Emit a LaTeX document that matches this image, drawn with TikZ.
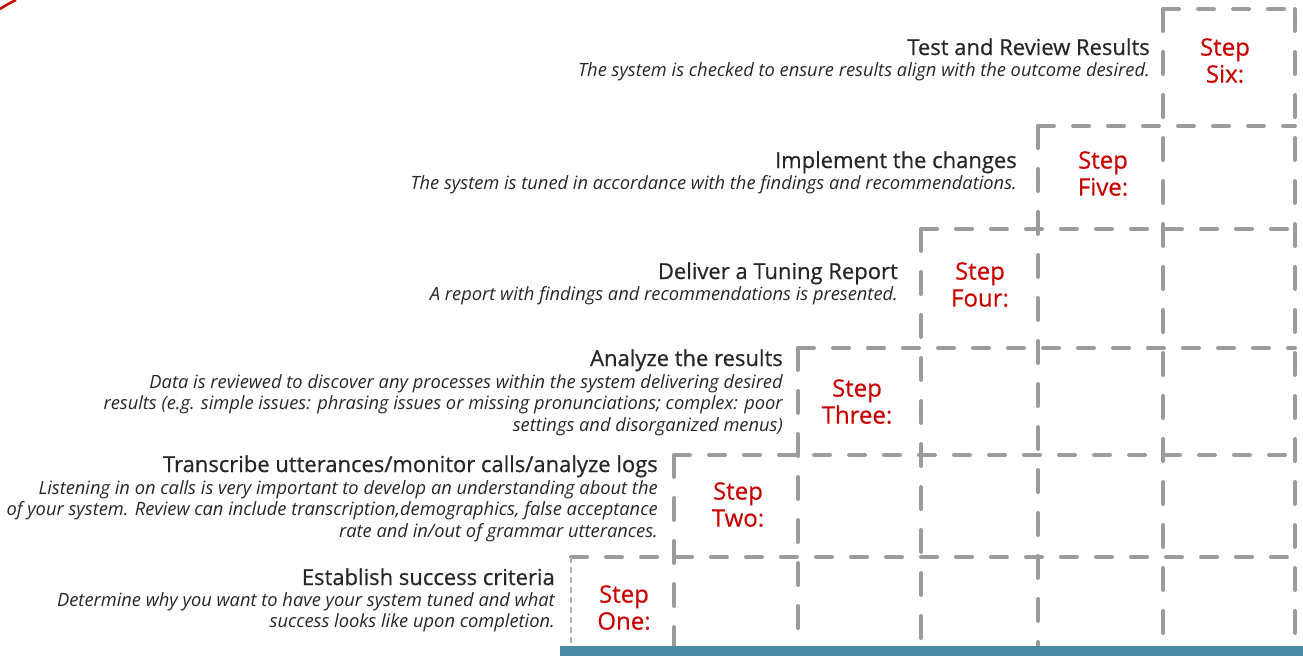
\documentclass[tikz,border=0pt]{standalone}
\usepackage{fontspec}
\setmainfont{Open Sans}
\newfontfamily\headfont{Open Sans}[FakeBold=0.6]
\newfontfamily\stepfont{Open Sans}[FakeBold=0.3]
\usetikzlibrary{positioning}

\definecolor{rulegray}{HTML}{9B9B9D}
\definecolor{stepred}{HTML}{C80000}
\definecolor{barblue}{HTML}{4A89A3}
\definecolor{inkdark}{HTML}{262626}

\begin{document}
\begin{tikzpicture}[x=1pt, y=-1pt,
  rule/.style={rulegray, line width=4pt, line cap=round},
  hrule/.style={rule, dash pattern=on 16pt off 19pt},
  vrule/.style={rule, dash pattern=on 22pt off 21pt},
  startrule/.style={rulegray!80, line width=1.2pt, dash pattern=on 6pt off 4pt},
  head/.style={anchor=base east, inner sep=0, text=inkdark,
    font=\headfont\fontsize{22}{26}\selectfont},
  desc/.style={anchor=north east, inner sep=0, align=right, text=inkdark,
    font=\fontsize{18.3}{21.5}\selectfont\itshape},
  steplbl/.style={anchor=north, inner sep=0, align=center, text=stepred,
    font=\stepfont\fontsize{24}{27}\selectfont}]

  \useasboundingbox (0,0) rectangle (1303,656);

  % corner swoosh
  \draw[stepred, line width=2.5pt] (0,9) to[bend left=4] (16,0);

  % staircase: one top rule per step, verticals down to the bar
  \foreach \xa/\y in {571/557, 674/455, 798/348, 921/229, 1038/126, 1163/9}
    \draw[hrule] (\xa,\y) -- (1295,\y);
  \foreach \x/\ya in {674/455, 798/348, 921/229, 1038/126, 1163/9, 1295/9}
    \draw[vrule] (\x,\ya) -- (\x,646);
  \draw[startrule] (571,557) -- (571,646);

  % base bar
  \fill[barblue] (560,646) rectangle (1303,656);

  % step labels
  \node[steplbl] (s6) at (1225,38) {Step\\Six:};
  \node[steplbl] (s5) at (1103,151) {Step\\Five:};
  \node[steplbl] (s4) at (980,262) {Step\\Four:};
  \node[steplbl] (s3) at (857,379) {Step\\Three:};
  \node[steplbl] (s2) at (738,482) {Step\\Two:};
  \node[steplbl] (s1) at (624,585) {Step\\One:};

  % what happens at each step
  \node[head] (h6) at (1150,55) {Test and Review Results};
  \node[desc] (d6) at (1150,62.3)
    {The system is checked to ensure results align with the outcome desired.};

  \node[head] (h5) at (1017,168) {Implement the changes};
  \node[desc] (d5) at (1017,175.3)
    {The system is tuned in accordance with the findings and recommendations.};

  \node[head] (h4) at (898,279) {Deliver a Tuning Report};
  \node[desc] (d4) at (898,286.3)
    {A report with findings and recommendations is presented.};

  \node[head] (h3) at (783,366) {Analyze the results};
  \node[desc] (d3) at (783,374.3)
    {Data is reviewed to discover any processes within the system delivering desired\\
     results (e.g. simple issues: phrasing issues or missing pronunciations; complex: poor\\
     settings and disorganized menus)};

  \node[head] (h2) at (658,472) {Transcribe utterances/monitor calls/analyze logs};
  \node[desc] (d2) at (658,480.3)
    {Listening in on calls is very important to develop an understanding about the\\
     of your system. Review can include transcription,demographics, false acceptance\\
     rate and in/out of grammar utterances.};

  \node[head] (h1) at (555,585) {Establish success criteria};
  \node[desc] (d1) at (555,592.3)
    {Determine why you want to have your system tuned and what\\
     success looks like upon completion.};
\end{tikzpicture}
\end{document}
